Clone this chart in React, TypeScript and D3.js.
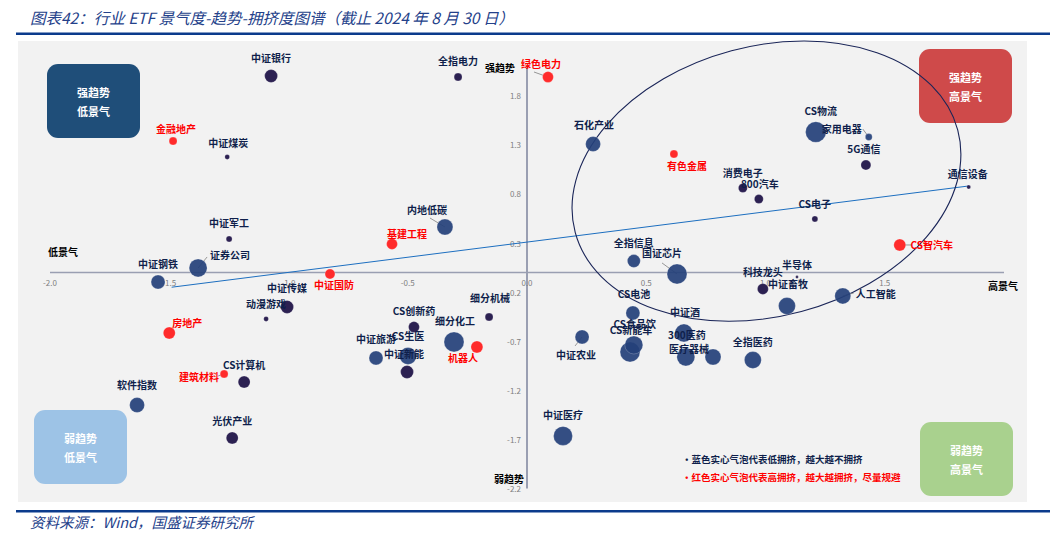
import React from "react";
import * as d3 from "d3";

// ---- data ----
const names = ["中证银行","全指电力","绿色电力","金融地产","中证煤炭","石化产业","有色金属","CS物流","家用电器","5G通信","消费电子","800汽车","CS电子","通信设备","CS智汽车","半导体","科技龙头","中证畜牧","人工智能","国证芯片","全指信息","CS电池","中证酒","CS食品饮","CS新能车","300医药","医疗器械","全指医药","中证农业","中证医疗","细分机械","细分化工","机器人","CS创新药","CS生医","中证新能","中证旅游","中证传媒","动漫游戏","中证国防","中证钢铁","证券公司","中证军工","房地产","内地低碳","基建工程","CS计算机","建筑材料","软件指数","光伏产业"];
const prosperity = [-1.073,-0.289,0.088,-1.484,-1.257,0.277,0.616,1.211,1.433,1.421,0.905,0.972,1.207,1.852,1.563,1.132,0.989,1.09,1.324,0.629,0.448,0.444,0.658,0.448,0.432,0.666,0.78,0.947,0.231,0.151,-0.159,-0.306,-0.21,-0.474,-0.499,-0.503,-0.633,-1.006,-1.094,-0.826,-1.547,-1.379,-1.249,-1.5,-0.344,-0.566,-1.186,-1.27,-1.635,-1.236];
const trend = [2.0,1.99,1.99,1.338,1.176,1.308,1.206,1.43,1.379,1.094,0.86,0.748,0.545,0.87,0.28,-0.046,-0.168,-0.341,-0.239,-0.015,0.117,-0.412,-0.616,-0.738,-0.809,-0.86,-0.86,-0.891,-0.656,-1.664,-0.453,-0.707,-0.758,-0.555,-0.85,-1.013,-0.87,-0.351,-0.473,-0.015,-0.097,0.046,0.341,-0.616,0.463,0.29,-1.115,-1.033,-1.349,-1.684];
const crowding = [42,16,30,16,6,56,16,106,12,25,20,20,9,4,36,2,30,72,64,100,42,49,81,81,100,81,64,72,49,90,16,100,36,30,72,42,49,42,6,25,49,81,9,36,64,30,36,16,56,36];
const group = ["mid","mid","high","high","mid","low","high","low","low","mid","mid","mid","mid","mid","high","mid","mid","low","low","low","low","low","low","low","low","low","low","low","low","low","mid","low","high","mid","low","mid","low","mid","mid","high","low","low","mid","high","low","high","mid","high","low","mid"];
const xTicks = [-2.0,-1.5,-1.0,-0.5,0.0,0.5,1.0,1.5];
const yTicks = [1.8,1.3,0.8,0.3,-0.2,-0.7,-1.2,-1.7,-2.2];
const trendLine = [{x:-1.49,y:-0.15},{x:1.85,y:0.88}];
const ellipseCenter = {x:1.004,y:0.93};

// ---- layout: label offsets (px) and leader lines ----
const labelOffset: Record<string,[number,number]> = {
  "中证银行":[0,-19],"全指电力":[0,-17],"绿色电力":[-7,-14],"金融地产":[3,-13],"中证煤炭":[1,-14],
  "石化产业":[1,-20],"有色金属":[13,11],"CS物流":[5,-22],"家用电器":[-27,-9],"5G通信":[-2,-17],
  "消费电子":[0,-16],"800汽车":[1,-16],"CS电子":[0,-15],"通信设备":[-1,-14],"CS智汽车":[32,0],
  "半导体":[0,-13],"科技龙头":[0,-17],"中证畜牧":[1,-22],"人工智能":[33,-2],"国证芯片":[-15,-21],
  "全指信息":[0,-18],"CS电池":[1,-19],"中证酒":[1,-21],"CS食品饮":[1,-21],"CS新能车":[1,-22],
  "300医药":[1,-22],"医疗器械":[-24,-8],"全指医药":[0,-19],"中证农业":[-6,18],"中证医疗":[0,-21],
  "细分机械":[1,-19],"细分化工":[1,-21],"机器人":[-14,11],"CS创新药":[0,-17],"CS生医":[0,-20],
  "中证新能":[-3,-18],"中证旅游":[0,-19],"中证传媒":[0,-19],"动漫游戏":[0,-15],"中证国防":[4,11],
  "中证钢铁":[0,-19],"证券公司":[32,-13],"中证军工":[0,-16],"房地产":[18,-10],"内地低碳":[-18,-18],
  "基建工程":[15,-11],"CS计算机":[0,-18],"建筑材料":[-25,3],"软件指数":[0,-21],"光伏产业":[0,-17],
};
const leaders: Record<string,[number,number]> = {
  "绿色电力":[-14,-5],"家用电器":[-6,-8],"人工智能":[11,-3],"国证芯片":[-15,-11],"中证农业":[-7,9],
  "证券公司":[9,-11],"内地低碳":[-15,-9],"CS智汽车":[12,0],"建筑材料":[-6,2],
};

const fills: Record<string,string> = { low: "#24407a", mid: "#2c2152", high: "#ff2b2b" };
const FONT = "'Noto Sans CJK SC', 'Noto Sans', sans-serif";

export default function App() {
  const W = 1060, H = 534;
  const x = d3.scaleLinear().domain([-2, 2]).range([50, 1004]);
  const y = d3.scaleLinear().domain([-2.2, 2.1]).range([488.6, 66.2]);
  const r = d3.scaleSqrt().domain([0, 100]).range([0, 10]);
  const x0 = x(0), y0 = y(0);
  const line = d3.line<{x:number,y:number}>().x(d => x(d.x)).y(d => y(d.y));
  const pts = names.map((n, i) => ({ n, x: prosperity[i], y: trend[i], s: crowding[i], g: group[i] }));
  const order = [...pts].sort((a, b) => b.s - a.s);

  const box = (bx: number, by: number, color: string, l1: string, l2: string) => (
    <g>
      <rect x={bx} y={by} width={93} height={74} rx={11} fill={color} />
      <text x={bx + 46.5} y={by + 28} textAnchor="middle" dominantBaseline="central" fill="#fff" fontSize={11} fontWeight="bold" fontFamily={FONT}>{l1}</text>
      <text x={bx + 46.5} y={by + 47} textAnchor="middle" dominantBaseline="central" fill="#fff" fontSize={11} fontWeight="bold" fontFamily={FONT}>{l2}</text>
    </g>
  );

  return (
    <div style={{ position: "absolute", left: 0, top: 0 }}>
      <svg width={W} height={H} style={{ display: "block", background: "#fff" }}>
        <text x={30} y={17} fontSize={15.5} fontStyle="italic" fill="#24418a" dominantBaseline="central" fontFamily={FONT}>图表42：行业 ETF 景气度-趋势-拥挤度图谱（截止 2024 年 8 月 30 日）</text>
        <rect x={16} y={32.5} width={1034} height={2.5} fill="#0b3b8c" />
        <rect x={18} y={41} width={1009} height={461} fill="#f2f2f2" />
        <rect x={16} y={510} width={1034} height={2.5} fill="#0b3b8c" />
        <text x={30} y={521} fontSize={14.5} fontStyle="italic" fill="#24418a" dominantBaseline="central" fontFamily={FONT}>资料来源：Wind，国盛证券研究所</text>

        {box(47, 64, "#1f4e79", "强趋势", "低景气")}
        {box(919, 49, "#cf4a4a", "强趋势", "高景气")}
        {box(34, 410, "#9dc3e6", "弱趋势", "低景气")}
        {box(920, 422, "#a9d18e", "弱趋势", "高景气")}

        {/* axes */}
        <line x1={x(-2)} x2={x(2)} y1={y0} y2={y0} stroke="#9a9fb2" strokeWidth={1.5} />
        <line x1={x0} x2={x0} y1={y(2.1)} y2={y(-2.2)} stroke="#9a9fb2" strokeWidth={2} />
        {xTicks.map(t => (
          <text key={"xt" + t} x={x(t)} y={y0 + 10} textAnchor="middle" dominantBaseline="central" fontSize={8} fill="#808080" fontFamily={FONT}>{t.toFixed(1)}</text>
        ))}
        {yTicks.map(t => (
          <text key={"yt" + t} x={x0 - 6} y={y(t)} textAnchor="end" dominantBaseline="central" fontSize={8} fill="#808080" fontFamily={FONT}>{t.toFixed(1)}</text>
        ))}
        <text x={63} y={251} textAnchor="middle" dominantBaseline="central" fontSize={10} fontWeight="bold" fill="#000" fontFamily={FONT}>低景气</text>
        <text x={1003} y={285} textAnchor="middle" dominantBaseline="central" fontSize={10} fontWeight="bold" fill="#000" fontFamily={FONT}>高景气</text>
        <text x={500} y={67} textAnchor="middle" dominantBaseline="central" fontSize={10} fontWeight="bold" fill="#000" fontFamily={FONT}>强趋势</text>
        <text x={509} y={478} textAnchor="middle" dominantBaseline="central" fontSize={10} fontWeight="bold" fill="#000" fontFamily={FONT}>弱趋势</text>

        {/* trend line */}
        <path d={line(trendLine) || ""} fill="none" stroke="#1d6fc0" strokeWidth={1} />

        {/* ellipse */}
        <ellipse cx={x(ellipseCenter.x)} cy={y(ellipseCenter.y)} rx={198} ry={135} fill="none" stroke="#1a2558" strokeWidth={1.1}
          transform={`rotate(-15 ${x(ellipseCenter.x)} ${y(ellipseCenter.y)})`} />

        {/* leaders */}
        {pts.filter(p => leaders[p.n]).map(p => {
          const [lx, ly] = leaders[p.n];
          return <line key={"ld" + p.n} x1={x(p.x)} y1={y(p.y)} x2={x(p.x) + lx} y2={y(p.y) + ly} stroke="#7f7f7f" strokeWidth={0.8} />;
        })}

        {/* bubbles */}
        {order.map(p => (
          <circle key={"c" + p.n} cx={x(p.x)} cy={y(p.y)} r={r(p.s)} fill={fills[p.g]} fillOpacity={p.g === "low" ? 0.92 : 1} stroke="#ffffff" strokeOpacity={0.35} strokeWidth={0.6} />
        ))}

        {/* labels */}
        {pts.map(p => {
          const [dx, dy] = labelOffset[p.n] || [0, -15];
          return (
            <text key={"t" + p.n} x={x(p.x) + dx} y={y(p.y) + dy} textAnchor="middle" dominantBaseline="central"
              fontSize={10} fontWeight="bold" fill={p.g === "high" ? "#ff0000" : "#0f1f4b"} fontFamily={FONT}>{p.n}</text>
          );
        })}

        {/* note */}
        <text x={682} y={459} dominantBaseline="central" fontSize={9.5} fontWeight="bold" fill="#0f1f4b" fontFamily={FONT}>•蓝色实心气泡代表低拥挤，越大越不拥挤</text>
        <text x={682} y={477} dominantBaseline="central" fontSize={9.5} fontWeight="bold" fill="#ff0000" fontFamily={FONT}>•红色实心气泡代表高拥挤，越大越拥挤，尽量规避</text>
      </svg>
    </div>
  );
}
